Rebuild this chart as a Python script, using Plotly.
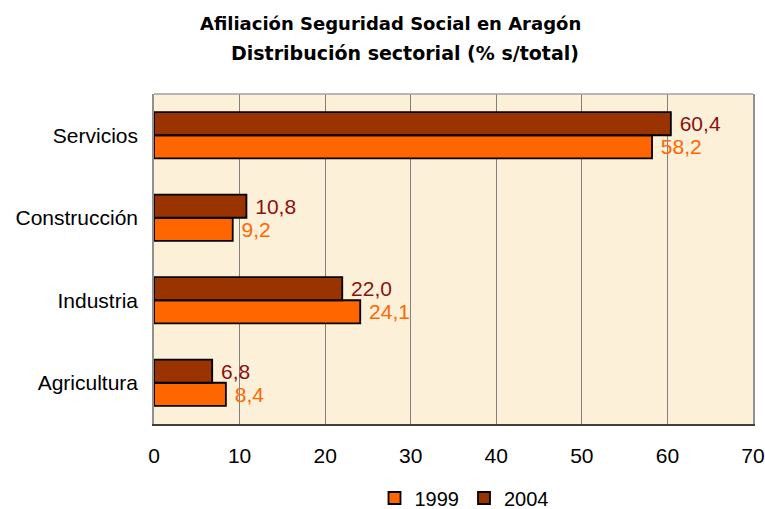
import plotly.graph_objects as go

categories = ["Agricultura", "Industria", "Construcción", "Servicios"]
values_1999 = [8.4, 24.1, 9.2, 58.2]
values_2004 = [6.8, 22.0, 10.8, 60.4]
labels_1999 = ["8,4", "24,1", "9,2", "58,2"]
labels_2004 = ["6,8", "22,0", "10,8", "60,4"]
x_ticks = [0, 10, 20, 30, 40, 50, 60, 70]

FONT = "Liberation Sans, Arial, sans-serif"

fig = go.Figure()
fig.add_trace(go.Bar(
    y=categories, x=values_1999, orientation="h", name="1999",
    marker=dict(color="#FF6600", line=dict(color="#000000", width=1.8)),
    text=[" " + t for t in labels_1999], textposition="outside", cliponaxis=False,
    textfont=dict(color="#FF6600", size=21, family=FONT),
))
fig.add_trace(go.Bar(
    y=categories, x=values_2004, orientation="h", name="2004",
    marker=dict(color="#993300", line=dict(color="#000000", width=1.8)),
    text=[" " + t for t in labels_2004], textposition="outside", cliponaxis=False,
    textfont=dict(color="#8B1010", size=21, family=FONT),
))

W, H = 765, 509
L, R, T, B = 154, 12, 94, 85
plot_h = H - T - B
plot_w = W - L - R


def py(ypix):
    return (H - B - ypix) / plot_h


def px(xpix):
    return (xpix - L) / plot_w


fig.update_layout(
    width=W, height=H,
    margin=dict(l=L, r=R, t=T, b=B, autoexpand=False),
    paper_bgcolor="white",
    plot_bgcolor="#FCF0D8",
    barmode="group",
    bargap=0.44,
    bargroupgap=0.0,
    font=dict(family=FONT, size=21, color="black"),
    showlegend=True,
    legend=dict(orientation="h", xref="container", yref="container",
                x=464 / W, xanchor="center", y=(H - 498) / H, yanchor="middle",
                font=dict(size=20), traceorder="normal", bgcolor="rgba(0,0,0,0)",
                itemwidth=30),
    annotations=[
        dict(text="<b>Afiliación Seguridad Social en Aragón</b>", xref="paper", yref="paper",
             x=px(390), y=py(23), showarrow=False,
             font=dict(size=18, family="DejaVu Sans, sans-serif"),
             xanchor="center", yanchor="middle"),
        dict(text="<b>Distribución sectorial (% s/total)</b>", xref="paper", yref="paper",
             x=px(405), y=py(53), showarrow=False,
             font=dict(size=19, family="DejaVu Sans, sans-serif"),
             xanchor="center", yanchor="middle"),
    ],
    shapes=[
        dict(type="line", xref="paper", yref="paper", x0=0, x1=1, y0=1, y1=1,
             line=dict(color="#A0A0A0", width=1.5)),
    ],
)

fig.update_xaxes(
    range=[0, 70], tickvals=x_ticks, ticktext=[str(v) for v in x_ticks],
    showgrid=True, gridcolor="#808080", gridwidth=1,
    showline=True, linecolor="#404040", linewidth=1.5, mirror=False,
    ticks="", ticklabelstandoff=12, zeroline=False, fixedrange=True,
    automargin=False, tickfont=dict(size=21),
)
fig.update_yaxes(
    showgrid=False, showline=True, linecolor="#909090", linewidth=1.5, mirror=True,
    ticks="", ticklabelstandoff=10, fixedrange=True, automargin=False,
    tickfont=dict(size=21),
)

fig.write_html("out.html", config={"displayModeBar": False},
               post_script="document.body.style.margin='0';document.body.style.padding='0';")
